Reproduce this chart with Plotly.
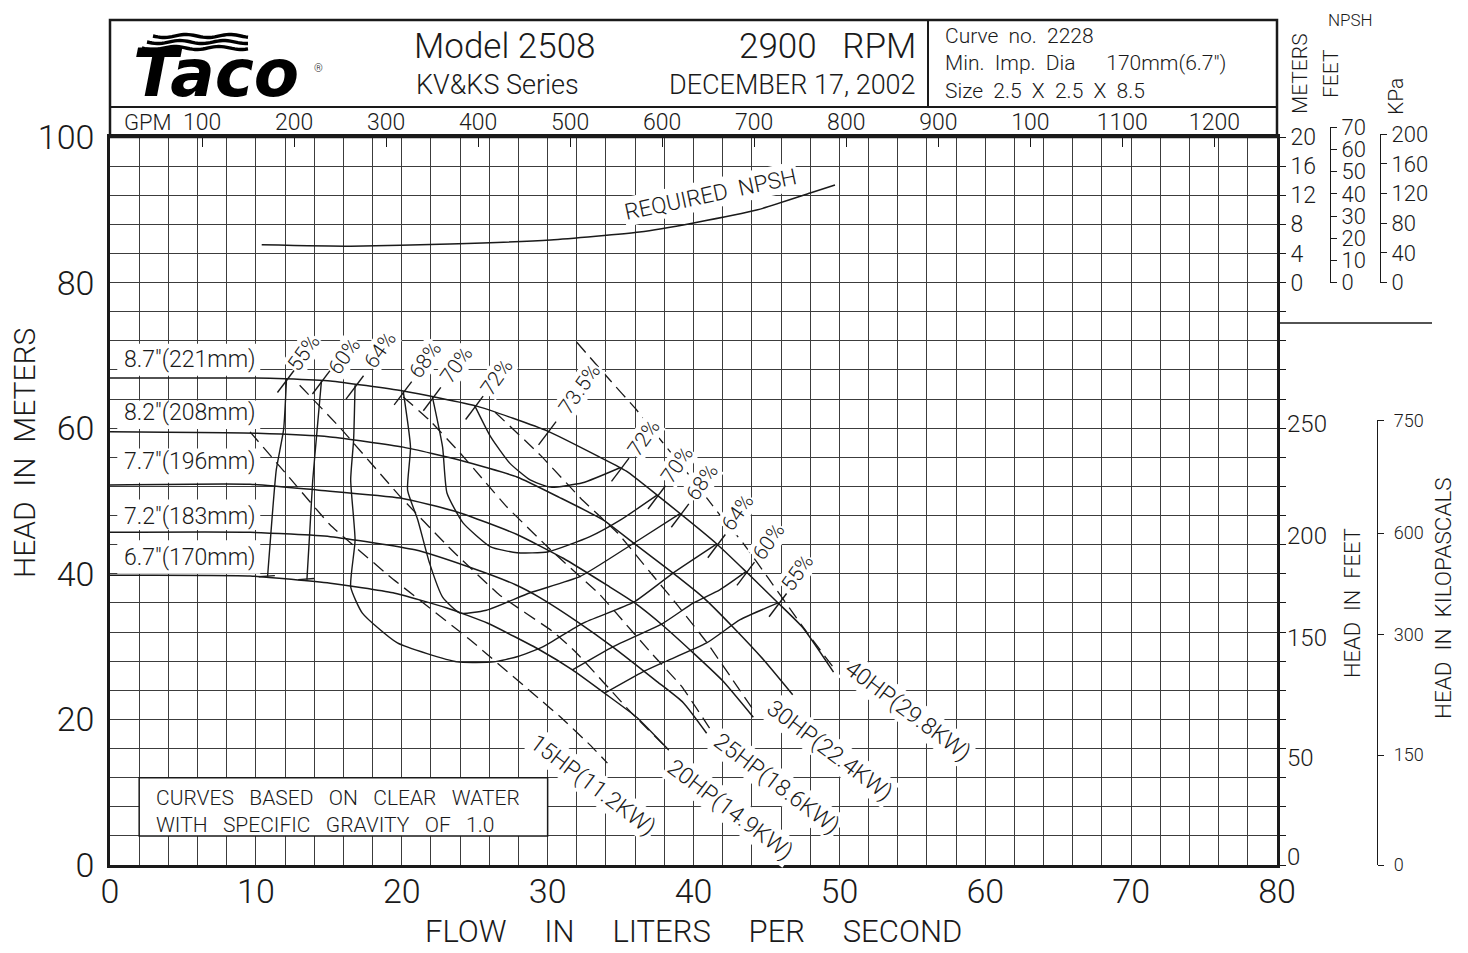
import math
import plotly.graph_objects as go

# ------------------------------------------------------------------ data
flow_ticks = [0, 10, 20, 30, 40, 50, 60, 70, 80]
head_ticks = [0, 20, 40, 60, 80, 100]
gpm_ticks = [100, 200, 300, 400, 500, 600, 700, 800, 900, 1000, 1100, 1200]
gpm_text = ["100", "200", "300", "400", "500", "600", "700", "800", "900", "100", "1100", "1200"]

npsh_m_ticks = [0, 4, 8, 12, 16, 20]
npsh_ft_ticks = [0, 10, 20, 30, 40, 50, 60, 70]
npsh_kpa_ticks = [0, 40, 80, 120, 160, 200]
head_ft_text = ["0", "50", "150", "200", "250"]
head_ft_at_m = [1.2, 14.8, 31.2, 45.3, 60.7]
head_kpa_text = ["0", "150", "300", "600", "750"]
head_kpa_at_m = [0, 15.1, 31.6, 45.6, 61.1]

impeller_names = ['8.7"(221mm)', '8.2"(208mm)', '7.7"(196mm)', '7.2"(183mm)', '6.7"(170mm)']
q_221 = [0, 10.0, 12.0, 15.1, 20.1, 25.2, 30.0, 33.6, 35.4, 37.7, 41.6, 43.7, 45.8, 47.5, 49.6]
h_221 = [66.9, 66.9, 66.8, 66.5, 65.1, 63.0, 59.6, 56.0, 54.1, 50.5, 44.1, 40.1, 36.0, 32.6, 26.5]
q_208 = [0, 10.1, 15.1, 20.1, 24.0, 27.9, 30.8, 33.8, 35.9, 38.6, 40.7, 42.7, 44.8, 46.8]
h_208 = [59.5, 59.3, 58.8, 57.4, 55.6, 53.3, 50.5, 47.4, 44.2, 40.1, 36.7, 32.7, 28.2, 23.4]
q_196 = [0, 9.6, 14.2, 19.9, 23.8, 27.9, 31.1, 34.1, 35.9, 37.9, 40.0, 42.0, 44.1]
h_196 = [52.2, 52.3, 51.5, 50.4, 48.5, 45.4, 42.1, 38.4, 36.1, 32.9, 29.1, 25.3, 20.3]
q_183 = [0, 9.6, 15.1, 20.9, 24.8, 27.8, 29.5, 32.2, 34.5, 37.5, 39.3, 40.9]
h_183 = [45.7, 45.7, 45.1, 43.3, 40.8, 38.5, 36.7, 33.2, 29.9, 25.2, 22.3, 18.1]
q_170 = [0, 9.6, 15.1, 19.4, 23.1, 25.9, 29.5, 31.7, 33.9, 36.1, 38.3]
h_170 = [39.8, 39.7, 38.7, 37.4, 35.3, 33.2, 29.5, 26.8, 23.6, 20.3, 15.8]

# efficiency (iso) curves
e55a_q = [12.1, 11.9, 11.4, 11.1, 10.8]
e55a_h = [66.8, 59.8, 54.3, 47.4, 39.6]
e60a_q = [14.5, 14.2, 13.9, 13.7, 13.5]
e60a_h = [66.6, 59.8, 52.9, 46.0, 39.2]
e64_q = [16.8, 16.7, 16.5, 16.8, 16.5, 17.3, 19.7, 23.8, 26.3, 27.9, 29.7, 32.4, 35.9, 38.6, 41.6]
e64_h = [65.9, 58.4, 52.9, 44.6, 38.2, 34.6, 30.5, 27.9, 27.9, 28.6, 30.0, 33.2, 36.1, 40.1, 44.1]
e68_q = [20.1, 20.6, 20.4, 21.1, 21.9, 22.8, 24.0, 25.8, 28.8, 32.2, 35.9, 39.1]
e68_h = [65.1, 57.4, 51.5, 47.4, 41.5, 36.8, 34.6, 35.0, 37.4, 39.6, 44.2, 48.3]
e70_q = [22.1, 22.8, 23.1, 24.2, 26.1, 27.9, 30.0, 32.9, 35.0, 37.5]
e70_h = [64.3, 57.4, 51.1, 47.0, 43.7, 42.9, 43.0, 45.1, 47.4, 50.8]
e72_q = [25.0, 26.1, 27.4, 28.8, 30.2, 32.4, 35.0]
e72_h = [63.1, 58.8, 55.2, 52.9, 51.9, 52.5, 54.6]
e55b_q = [33.9, 36.5, 37.9, 40.9, 43.2, 45.8]
e55b_h = [23.6, 26.5, 27.8, 30.5, 33.7, 36.0]
e60b_q = [31.7, 34.5, 37.9, 40.0, 41.8, 43.6]
e60b_h = [26.8, 30.0, 33.2, 36.0, 37.8, 40.3]

eff_mark_text = ["55%", "60%", "64%", "68%", "70%", "72%", "73.5%", "72%", "70%", "68%", "64%", "60%", "55%"]
eff_mark_q = [12.1, 14.5, 16.8, 20.1, 22.1, 25.0, 30.0, 35.0, 37.5, 39.1, 41.6, 43.6, 45.8]
eff_mark_h = [66.8, 66.6, 65.9, 65.1, 64.3, 63.1, 59.6, 54.6, 50.8, 48.3, 44.1, 40.3, 36.0]
eff_foot_q = [10.8, 13.5]
eff_foot_h = [39.6, 39.2]

# motor power limit lines
hp_names = ["15HP(11.2KW)", "20HP(14.9KW)", "25HP(18.6KW)", "30HP(22.4KW)", "40HP(29.8KW)"]
hp15_q = [9.6, 12.3, 15.1, 19.2, 24.7, 29.5, 30.9, 32.9, 34.1]
hp15_h = [59.5, 53.2, 46.7, 39.6, 30.9, 22.7, 20.3, 16.5, 14.0]
hp20_q = [13.0, 15.8, 19.9, 23.3, 26.7, 30.4, 31.9, 35.7, 38.3]
hp20_h = [65.9, 60.0, 50.6, 43.5, 37.1, 32.0, 29.3, 21.0, 15.8]
hp25_q = [20.1, 21.9, 24.0, 25.6, 27.2, 30.2, 33.6, 35.4, 37.2, 39.2, 41.1]
hp25_h = [64.3, 61.1, 56.6, 52.9, 49.2, 43.3, 37.1, 33.0, 28.9, 24.5, 18.8]
hp30_q = [26.4, 29.5, 32.4, 34.8, 37.2, 38.9, 40.9, 42.7, 44.2]
hp30_h = [62.2, 56.3, 50.1, 45.6, 39.8, 35.7, 30.6, 25.4, 21.0]
hp40_q = [32.0, 34.1, 36.1, 37.9, 39.8, 41.8, 43.4, 45.2, 47.5, 49.6]
hp40_h = [71.8, 67.0, 62.5, 58.0, 53.3, 48.1, 44.2, 39.2, 32.7, 27.1]

# required NPSH (metres)
npsh_q = [10.4, 16.5, 23.3, 30.2, 36.3, 40.0, 44.4, 48.0, 49.7]
npsh_m = [5.2, 5.0, 5.3, 5.85, 6.95, 8.2, 10.0, 12.3, 13.4]

LPS_PER_GPM = 0.0630902
M_PER_FT = 0.3048
KPA_PER_M = 9.80665

# ------------------------------------------------------------------ style
# the page body has an 8px margin, so the figure is drawn 8px smaller and
# all decoration positions (given in screen pixels) are shifted by it.
OX, OY = 8, 8
WF, HF = 1468 - OX, 953 - OY

INK = "#1a1a1a"
GRID = "#3c3c3c"
FONT = "Roboto"
WT = 300
NB = "\u00a0"
SP2 = NB + " "
SP3 = NB + NB + " "
SP5 = NB * 4 + " "


def F(size, family=FONT, weight=WT, color=INK, **kw):
    d = dict(family=family, size=size, color=color, weight=weight)
    d.update(kw)
    return d


def P(x, y):  # screen pixel -> paper fraction (decoration placement only)
    return (x - OX) / WF, (HF - (y - OY)) / HF


XL, XR = P(110, 0)[0], P(1277, 0)[0]
YB, YT = P(0, 865)[1], P(0, 137)[1]


def yp(head):
    return YB + (YT - YB) * head / 100.0


fig = go.Figure()


def curve(q, h, dash=None, width=1.5, yaxis="y", smooth=0.5):
    fig.add_trace(go.Scatter(
        x=q, y=h, mode="lines", yaxis=yaxis,
        line=dict(color=INK, width=width, dash=dash, shape="spline", smoothing=smooth),
        hoverinfo="skip", showlegend=False))


for q, h in [(q_221, h_221), (q_208, h_208), (q_196, h_196), (q_183, h_183), (q_170, h_170)]:
    curve(q, h, width=1.5)

for q, h in [(e55a_q, e55a_h), (e60a_q, e60a_h), (e64_q, e64_h), (e68_q, e68_h),
             (e70_q, e70_h), (e72_q, e72_h), (e55b_q, e55b_h), (e60b_q, e60b_h)]:
    curve(q, h, width=1.4)

hp_lines = [(hp15_q, hp15_h), (hp20_q, hp20_h), (hp25_q, hp25_h), (hp30_q, hp30_h), (hp40_q, hp40_h)]
for q, h in hp_lines:
    curve(q, h, dash="13px,7px", width=1.3, smooth=0.3)

curve(npsh_q, npsh_m, width=1.5, yaxis="y2")

# short tick marks where the efficiency curves end
tq, th = [], []
for q, h in zip(eff_mark_q, eff_mark_h):
    tq += [q - 0.62, q + 0.58, None]
    th += [h - 1.9, h + 1.3, None]
for q, h in zip(eff_foot_q, eff_foot_h):
    tq += [q - 0.6, q + 0.5, None]
    th += [h, h + 0.15, None]
fig.add_trace(go.Scatter(x=tq, y=th, mode="lines", line=dict(color=INK, width=1.4),
                         hoverinfo="skip", showlegend=False))

# empty traces so that the extra axes get drawn
for xa, ya in [("x2", "y"), ("x", "y3"), ("x3", "y4"), ("x3", "y5"), ("x3", "y6")]:
    fig.add_trace(go.Scatter(x=[None], y=[None], xaxis=xa, yaxis=ya, mode="lines",
                             hoverinfo="skip", showlegend=False))

ann = []


def A(text, x, y, size, xanchor="center", yanchor="middle", angle=0, xref="paper", yref="paper",
      bg=None, font=None, **kw):
    d = dict(text=text, x=x, y=y, xref=xref, yref=yref, showarrow=False, xanchor=xanchor,
             yanchor=yanchor, textangle=angle, font=font or F(size))
    if bg:
        d["bgcolor"] = bg
    d.update(kw)
    ann.append(d)


# header
A("Model 2508", *P(412, 46), 35, xanchor="left")
A("KV&KS" + NB + "Series", *P(414, 84.5), 27, xanchor="left")
A("2900" + NB * 2 + " RPM", *P(918, 46), 35, xanchor="right")
A("DECEMBER 17, 2002", *P(918, 84.5), 27, xanchor="right")
A("Curve" + SP2 + "no." + SP2 + "2228<br>"
  + "Min." + SP2 + "Imp." + SP2 + "Dia" + NB * 5 + " 170mm(6.7\")<br>"
  + "Size" + SP2 + "2.5" + SP2 + "X" + SP2 + "2.5" + SP2 + "X" + SP2 + "8.5",
  *P(943, 64), 21, xanchor="left", align="left")
A("GPM", *P(122, 122), 22, xanchor="left")

# logo
A("<b><i>Taco</i></b>", *P(131, 73), 66, xanchor="left",
  font=dict(family="DejaVu Sans", size=66, color="black"))
A("®", *P(318, 68), 11, xanchor="center")

# axis titles
A("HEAD" + SP2 + "IN" + SP2 + "METERS", *P(24, 453), 30, angle=-90)
A("FLOW" + SP5 + "IN" + SP5 + "LITERS" + SP5 + "PER" + SP5 + "SECOND", *P(693, 931), 31)
A("HEAD" + SP2 + "IN" + SP2 + "FEET", *P(1352, 603), 22, angle=-90)
A("HEAD" + SP2 + "IN" + SP2 + "KILOPASCALS", *P(1443, 598), 22.5, angle=-90)
A("NPSH", *P(1350, 20), 17)
A("METERS", *P(1300, 74), 21, angle=-90)
A("FEET", *P(1331, 74), 21, angle=-90)
A("KPa", *P(1396, 97), 21, angle=-90)

# note box text (two lines in one block)
A("CURVES" + SP3 + "BASED" + SP3 + "ON" + SP3 + "CLEAR" + SP3 + "WATER<br>"
  + "WITH" + SP3 + "SPECIFIC" + SP3 + "GRAVITY" + SP3 + "OF" + SP3 + "1.0",
  *P(154, 811.5), 21, xanchor="left", align="left")

# impeller labels
imp_label_y = [69.4, 62.2, 55.4, 47.9, 42.2]
imp_white = [(67.2, 71.6), (59.9, 63.8), (52.5, 57.2), (46.0, 50.2), (40.0, 44.6)]
for name, yy in zip(impeller_names, imp_label_y):
    A(name, 0.8, yy, 23, xanchor="left", xref="x", yref="y")

# efficiency labels
eff_shift = [(17, 26), (23, 24), (25, 35), (22, 31), (24, 32), (22, 29), (32, 42),
             (23, 30), (20, 30), (22, 31), (21, 32), (22, 30), (19, 30)]
for t, q, h, (dx, dy) in zip(eff_mark_text, eff_mark_q, eff_mark_h, eff_shift):
    A(t, q, h, 21, xref="x", yref="y", angle=-55, bg="white", xshift=dx, yshift=dy, borderpad=0)

# HP labels
hp_shift = [(-14, -22), (61, -60), (67, -55), (75, -38), (74, -43)]
for name, (q, h), (dx, dy) in zip(hp_names, hp_lines, hp_shift):
    A(name, q[-1], h[-1], 23, xref="x", yref="y", angle=37, bg="white", xshift=dx, yshift=dy, borderpad=1)

A("REQUIRED" + SP2 + "NPSH", npsh_q[5], npsh_m[5], 22.5, xref="x", yref="y2", angle=-12, bg="white",
  xshift=17, yshift=29, borderpad=1)

# shapes
shapes = []


def line_px(x0, y0, x1, y1, w=2.0):
    a, b = P(x0, y0)
    c, d = P(x1, y1)
    shapes.append(dict(type="line", xref="paper", yref="paper", x0=a, y0=b, x1=c, y1=d,
                       line=dict(color=INK, width=w)))


a, b = P(110, 20)
c, d = P(1277, 137)
shapes.append(dict(type="rect", xref="paper", yref="paper", x0=a, y0=b, x1=c, y1=d,
                   line=dict(color=INK, width=2.5)))
line_px(110, 107, 1277, 107, 2.0)
line_px(928, 20, 928, 107, 2.0)
line_px(1277, 323, 1432, 323, 1.5)

# white panels hiding the grid behind the impeller labels and the note box
for y0, y1 in imp_white:
    shapes.append(dict(type="rect", xref="x", yref="y", x0=0.5, x1=10.3, y0=y0, y1=y1,
                       fillcolor="white", line=dict(width=0), layer="between"))
shapes.append(dict(type="rect", xref="x", yref="y", x0=2, x1=30, y0=4, y1=12,
                   fillcolor="white", line=dict(color=INK, width=1.5), layer="between"))


def wave_path(x0, x1, y, amp=1.5, period=44.0, n=40):
    pts = []
    for i in range(n + 1):
        x = x0 + (x1 - x0) * i / n
        yy = y + amp * math.sin(2 * math.pi * (x - x0) / period)
        u, v = P(x, yy)
        pts.append(f"{u:.5f},{v:.5f}")
    return "M " + " L ".join(pts)


for (x0, x1, y) in [(153, 248, 36), (147, 248, 42), (142, 248, 48)]:
    shapes.append(dict(type="path", xref="paper", yref="paper", path=wave_path(x0, x1, y),
                       line=dict(color="black", width=3.4)))

# ------------------------------------------------------------------ axes
common = dict(zeroline=False, fixedrange=True, automargin=False)
fig.update_layout(
    width=WF, height=HF, margin=dict(l=0, r=0, t=0, b=0, autoexpand=False),
    paper_bgcolor="white", plot_bgcolor="rgba(0,0,0,0)",
    font=F(20), showlegend=False,
    xaxis=dict(domain=[XL, XR], range=[0, 80], tickvals=flow_ticks, showgrid=True,
               gridcolor=GRID, gridwidth=1,
               minor=dict(dtick=2, showgrid=True, gridcolor=GRID, gridwidth=1),
               showline=True, linecolor=INK, linewidth=2.5, mirror=True, ticks="",
               tickfont=F(34), ticklabelstandoff=-6, **common),
    yaxis=dict(domain=[YB, YT], range=[0, 100], tickvals=head_ticks, showgrid=True,
               gridcolor=GRID, gridwidth=1,
               minor=dict(dtick=4, showgrid=True, gridcolor=GRID, gridwidth=1),
               showline=True, linecolor=INK, linewidth=2.5, mirror=True, ticks="",
               tickfont=F(34), ticklabelstandoff=6, **common),
    xaxis2=dict(overlaying="x", side="top", anchor="y", range=[0, 80 / LPS_PER_GPM],
                tickvals=gpm_ticks, ticktext=gpm_text, ticks="inside", ticklen=10,
                tickcolor=INK, tickwidth=1.3, showgrid=False, showline=False,
                tickfont=F(23), ticklabelstandoff=1, **common),
    xaxis3=dict(domain=[0.995, 1.0], range=[0, 1], visible=False, anchor="free", position=0, **common),
    yaxis2=dict(overlaying="y", side="right", anchor="x", range=[-80, 20],
                tickvals=list(range(-80, 21, 4)),
                ticktext=[str(v) if v in npsh_m_ticks else "" for v in range(-80, 21, 4)],
                ticks="outside", ticklen=8, tickcolor=INK, tickwidth=1.3, showgrid=False,
                showline=False, tickfont=F(23), **common),
    yaxis3=dict(overlaying="y", side="right", anchor="x", range=[0, 100],
                tickvals=head_ft_at_m, ticktext=head_ft_text, ticks="", showgrid=False,
                showline=False, tickfont=F(24), ticklabelstandoff=9, **common),
    yaxis4=dict(domain=[yp(80), yp(80 + 70 * M_PER_FT)], range=[0, 70], anchor="free",
                position=(1330 - OX) / WF, side="right", tickvals=npsh_ft_ticks, ticks="outside",
                ticklen=6, tickcolor=INK, tickwidth=1.3, showline=True, linecolor=INK,
                linewidth=1.4, showgrid=False, tickfont=F(22), **common),
    yaxis5=dict(domain=[yp(80), yp(80 + 200 / KPA_PER_M)], range=[0, 200], anchor="free",
                position=(1380 - OX) / WF, side="right", tickvals=npsh_kpa_ticks, ticks="outside",
                ticklen=6, tickcolor=INK, tickwidth=1.3, showline=True, linecolor=INK,
                linewidth=1.4, showgrid=False, tickfont=F(22), **common),
    yaxis6=dict(domain=[YB, yp(head_kpa_at_m[-1])], range=[0, head_kpa_at_m[-1]],
                anchor="free", position=(1377 - OX) / WF, side="right", tickvals=head_kpa_at_m,
                ticktext=head_kpa_text, ticks="outside", ticklen=6, tickcolor=INK,
                tickwidth=1.3, showline=True, linecolor=INK, linewidth=1.4, showgrid=False,
                tickfont=F(18), ticklabelstandoff=6, **common),
    annotations=ann, shapes=shapes,
)

fig.write_html("out.html")
